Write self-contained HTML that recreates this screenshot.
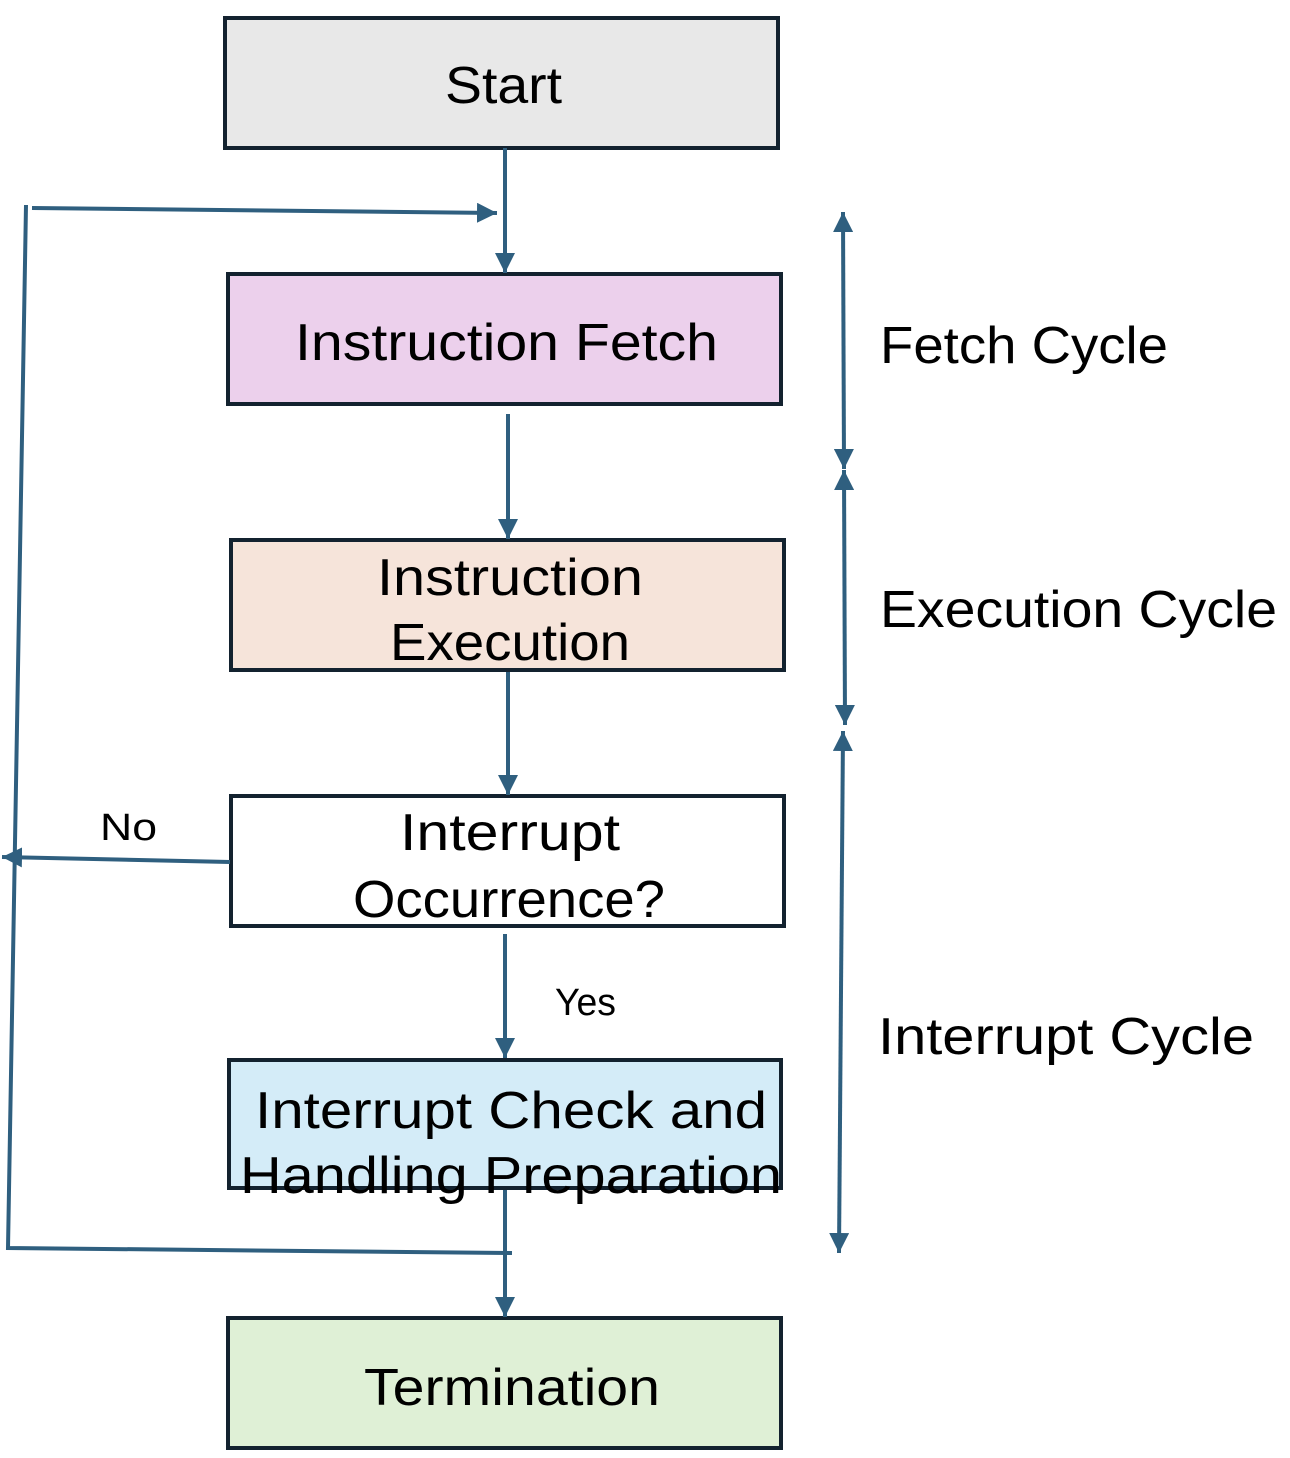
<!DOCTYPE html>
<html><head><meta charset="utf-8"><style>
html,body{margin:0;padding:0;background:#fff;}
svg{display:block;}
text{font-family:"Liberation Sans","DejaVu Sans",sans-serif;fill:#000;}
</style></head><body>
<svg width="1290" height="1458" viewBox="0 0 1290 1458" xmlns="http://www.w3.org/2000/svg">
<defs>
<marker id="a" viewBox="0 0 10 10" refX="10" refY="5" markerWidth="5" markerHeight="5" orient="auto-start-reverse" markerUnits="strokeWidth">
<path d="M0,0 L10,5 L0,10 z" fill="#2f5f7f"/></marker>
</defs>
<g stroke="#13222f" stroke-width="4">
<rect x="225" y="18" width="553" height="130" fill="#e8e8e8"/>
<rect x="228" y="274" width="553" height="130" fill="#ecd0ec"/>
<rect x="231" y="540" width="553" height="130" fill="#f6e4da"/>
<rect x="231" y="796" width="553" height="130" fill="#ffffff"/>
<rect x="229" y="1060" width="552" height="128" fill="#d4ecf8"/>
<rect x="228" y="1318" width="553" height="130" fill="#dff0d6"/>
</g>
<g stroke="#2f5f7f" stroke-width="4" fill="none">
<line x1="505" y1="148" x2="505" y2="273" marker-end="url(#a)"/>
<line x1="508" y1="414" x2="508" y2="539" marker-end="url(#a)"/>
<line x1="508" y1="672" x2="508" y2="795" marker-end="url(#a)"/>
<line x1="505" y1="934" x2="505" y2="1058" marker-end="url(#a)"/>
<line x1="505" y1="1190" x2="505" y2="1317" marker-end="url(#a)"/>
<polyline points="512,1253 8,1248 26,205"/>
<line x1="32" y1="208" x2="497" y2="213" marker-end="url(#a)"/>
<line x1="230" y1="862" x2="2" y2="857" marker-end="url(#a)"/>
<line x1="843" y1="212" x2="844" y2="469" marker-start="url(#a)" marker-end="url(#a)"/>
<line x1="844" y1="470" x2="845" y2="725" marker-start="url(#a)" marker-end="url(#a)"/>
<line x1="843" y1="731" x2="839" y2="1253" marker-start="url(#a)" marker-end="url(#a)"/>
</g>
<g font-size="52">
<text x="445" y="103" textLength="117" lengthAdjust="spacingAndGlyphs">Start</text>
<text x="295" y="360" textLength="423" lengthAdjust="spacingAndGlyphs">Instruction Fetch</text>
<text x="377" y="595" textLength="266" lengthAdjust="spacingAndGlyphs">Instruction</text>
<text x="390" y="660" textLength="240" lengthAdjust="spacingAndGlyphs">Execution</text>
<text x="400" y="850" textLength="220" lengthAdjust="spacingAndGlyphs">Interrupt</text>
<text x="353" y="917" textLength="312" lengthAdjust="spacingAndGlyphs">Occurrence?</text>
<text x="255" y="1128" textLength="512" lengthAdjust="spacingAndGlyphs">Interrupt Check and</text>
<text x="240" y="1193" textLength="542" lengthAdjust="spacingAndGlyphs">Handling Preparation</text>
<text x="364" y="1405" textLength="296" lengthAdjust="spacingAndGlyphs">Termination</text>
<text x="880" y="363" textLength="288" lengthAdjust="spacingAndGlyphs">Fetch Cycle</text>
<text x="880" y="627" textLength="397" lengthAdjust="spacingAndGlyphs">Execution Cycle</text>
<text x="878" y="1054" textLength="376" lengthAdjust="spacingAndGlyphs">Interrupt Cycle</text>
</g>
<g font-size="38">
<text x="100" y="840" textLength="57" lengthAdjust="spacingAndGlyphs">No</text>
<text x="555" y="1015" textLength="61" lengthAdjust="spacingAndGlyphs">Yes</text>
</g>
</svg>
</body></html>
